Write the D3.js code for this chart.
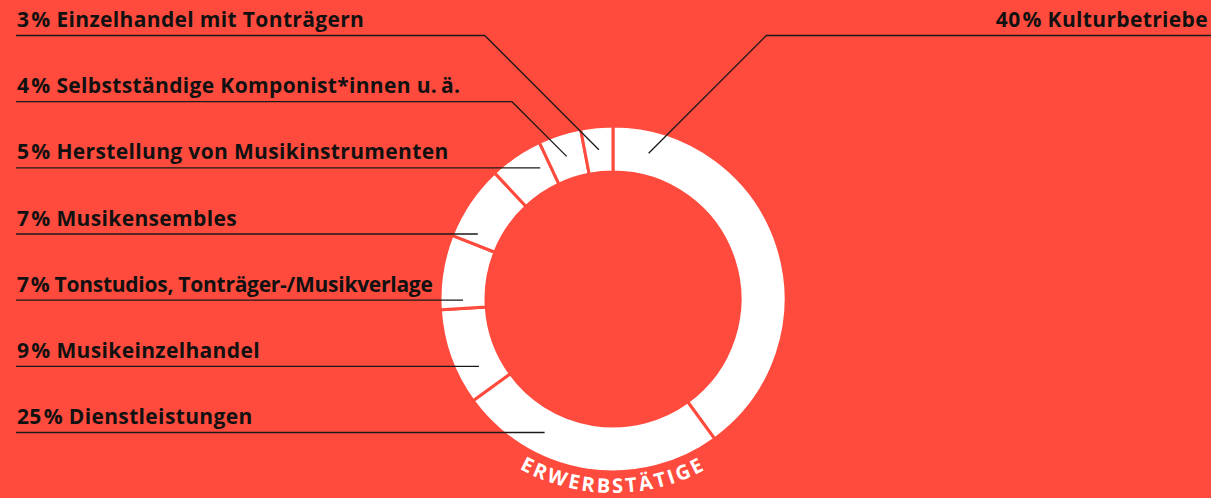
<!DOCTYPE html>
<html>
<head>
<meta charset="utf-8">
<script src="https://cdn.jsdelivr.net/npm/d3@7"></script>
<style>
  html, body { margin: 0; padding: 0; background: #ff4b3d; }
  svg { display: block; }
  .label { font-family: "Open Sans", Roboto, sans-serif; font-weight: 700; font-size: 21px; fill: #111; letter-spacing: 0.35px; }
  .title { font-family: "Open Sans", Roboto, sans-serif; font-weight: 700; font-size: 20px; fill: #fff; letter-spacing: 2.6px; }
</style>
</head>
<body>
<svg id="chart"></svg>
<script>
// chart data: share of employed persons (Erwerbstätige) per branch, in %
var categories = ["Kulturbetriebe", "Dienstleistungen", "Musikeinzelhandel",
    "Tonstudios, Tonträger-/Musikverlage", "Musikensembles",
    "Herstellung von Musikinstrumenten", "Selbstständige Komponist*innen u.\u2009ä.",
    "Einzelhandel mit Tonträgern"];
var shares = [40, 25, 9, 7, 7, 5, 4, 3];
var ringTitle = "ERWERBSTÄTIGE";

var width = 1211,
    height = 498,
    bg = "#ff4b3d";

// donut geometry
var cx = 613, cy = 299,
    rOuter = 173, rInner = 127,
    rAnchor = 150;

var svg = d3.select("#chart")
    .attr("width", width)
    .attr("height", height);

var pie = d3.pie().sort(null).value(d => d);
var arcs = pie(shares);
arcs.forEach((d, i) => { d.name = categories[i]; });

var arc = d3.arc().innerRadius(rInner).outerRadius(rOuter);

var ring = svg.append("g").attr("transform", "translate(" + cx + "," + cy + ")");

ring.selectAll("path.slice")
    .data(arcs).enter()
    .append("path")
    .attr("class", "slice")
    .attr("d", arc)
    .attr("fill", "#fff")
    .attr("stroke", bg)
    .attr("stroke-width", 3)
    .attr("stroke-linejoin", "miter");

// curved title under the ring
var rTitle = 194;
ring.append("path")
    .attr("id", "titlePath")
    .attr("fill", "none")
    .attr("d", "M" + (-rTitle) + ",0 A" + rTitle + "," + rTitle + " 0 0 0 " + rTitle + ",0");

ring.append("text")
    .attr("class", "title")
    .append("textPath")
    .attr("href", "#titlePath")
    .attr("startOffset", "50%")
    .attr("text-anchor", "middle")
    .text(ringTitle);

// label rows: first row holds the largest slice on the right, the others go down the left side
var leftArcs = arcs.slice(1).reverse();
var rowY = d3.scalePoint()
    .domain(d3.range(leftArcs.length))
    .range([35.5, 432.5]);

// angle in d3.arc convention (0 = top, clockwise)
function angleOf(x, y){
    var a = Math.atan2(x - cx, -(y - cy));
    return a < 0 ? a + 2 * Math.PI : a;
}

function leader(d, lineY, side){
    var dy = lineY - cy;
    if (Math.abs(dy) < rAnchor){
        var x = cx + side * Math.sqrt(rAnchor * rAnchor - dy * dy);
        var a = angleOf(x, lineY);
        if (a >= d.startAngle && a <= d.endAngle) return { end: [x, lineY], elbow: null };
    }
    var span = d.endAngle - d.startAngle;
    var a2 = span > 0.6 ? d.startAngle + 0.24 : (d.startAngle + d.endAngle) / 2;
    var ex = cx + rAnchor * Math.sin(a2),
        ey = cy - rAnchor * Math.cos(a2);
    var elbowX = ex + side * (ey - lineY);
    return { end: [ex, ey], elbow: [elbowX, lineY] };
}

var labels = [];
leftArcs.forEach((d, i) => labels.push({ d: d, y: rowY(i), side: -1 }));
labels.push({ d: arcs[0], y: rowY(0), side: 1 });

var lg = svg.append("g").attr("class", "labels");

labels.forEach(l => {
    var ld = leader(l.d, l.y, l.side);
    var startX = l.side < 0 ? 16 : width;
    var pts = [[startX, l.y]];
    if (ld.elbow) pts.push(ld.elbow);
    pts.push(ld.end);

    lg.append("path")
        .attr("d", d3.line()(pts))
        .attr("fill", "none")
        .attr("stroke", "#1a1a1a")
        .attr("stroke-width", 1.3);

    var tx = l.side < 0 ? 17 : 1208,
        ty = l.y - 8.5;
    var t = lg.append("text")
        .attr("class", "label")
        .attr("x", tx)
        .attr("y", ty)
        .attr("text-anchor", l.side < 0 ? "start" : "end");
    t.append("tspan").text(l.d.data);
    t.append("tspan").attr("dx", 2).text("% " + l.d.name);

    // keep left labels clear of the ring: tighten the spacing if a label runs into it
    if (l.side < 0){
        var dyMid = Math.abs(ty - 7 - cy);
        if (dyMid < rOuter){
            var limit = cx - Math.sqrt(rOuter * rOuter - dyMid * dyMid) - 10;
            var len = t.node().getComputedTextLength();
            if (tx + len > limit){
                var n = (l.d.data + "% " + l.d.name).length;
                t.style("letter-spacing", (0.35 - (tx + len - limit) / n) + "px");
            }
        }
    }
});
</script>
</body>
</html>
